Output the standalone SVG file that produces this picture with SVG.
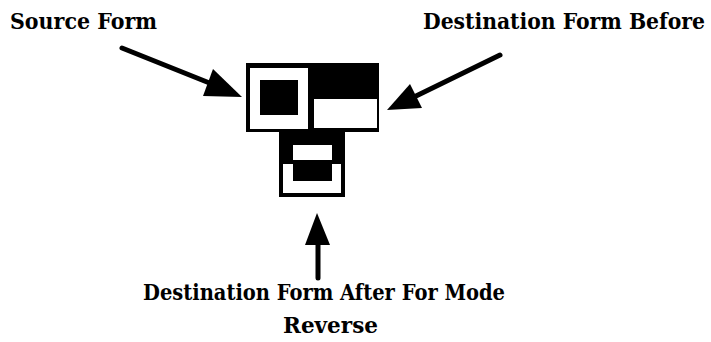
<svg xmlns="http://www.w3.org/2000/svg" width="711" height="342" viewBox="0 0 711 342">
<style>
.lbl{font-family:"DejaVu Serif",serif;font-weight:700;font-size:20px;fill:#000}
.blk{fill:#000}
.wht{fill:#fff}
.shaft{stroke:#000;stroke-width:5;stroke-linecap:round;fill:none}
.head{fill:#000}
</style>
<rect width="711" height="342" fill="#fff"/>
<g id="source-form-label"><text class="lbl" transform="translate(10,29) scale(1,1.12)" textLength="147" lengthAdjust="spacingAndGlyphs">Source Form</text></g>
<g id="destination-before-label"><text class="lbl" transform="translate(423,29) scale(1,1.12)" textLength="282" lengthAdjust="spacingAndGlyphs">Destination Form Before</text></g>
<g id="destination-after-label">
<text class="lbl" transform="translate(143,300) scale(1,1.12)" textLength="362" lengthAdjust="spacingAndGlyphs">Destination Form After For Mode</text>
<text class="lbl" transform="translate(283,333) scale(1,1.12)" textLength="95" lengthAdjust="spacingAndGlyphs">Reverse</text>
</g>
<g id="forms">
<g id="top-box">
<rect class="blk" x="246" y="63" width="133" height="69"/>
<rect class="wht" x="250" y="68" width="58" height="61"/>
<rect class="blk" x="260" y="80" width="38" height="35"/>
<rect class="wht" x="314" y="99" width="63" height="29"/>
</g>
<g id="bottom-box">
<rect class="blk" x="279" y="130" width="66" height="67"/>
<rect class="wht" x="293" y="145" width="39" height="15"/>
<rect class="wht" x="283" y="164" width="58" height="29"/>
<rect class="blk" x="293" y="160" width="39" height="21"/>
</g>
</g>
<g id="connectors">
<line class="shaft" x1="122" y1="48" x2="212" y2="84"/>
<polygon class="head" points="242,97 213,69 203,96"/>
<line class="shaft" x1="500" y1="55" x2="414" y2="97"/>
<polygon class="head" points="387,110 410,84 422,108"/>
<line class="shaft" x1="318" y1="240" x2="318" y2="278"/>
<polygon class="head" points="317,213 305,245 330,245"/>
</g>
</svg>
